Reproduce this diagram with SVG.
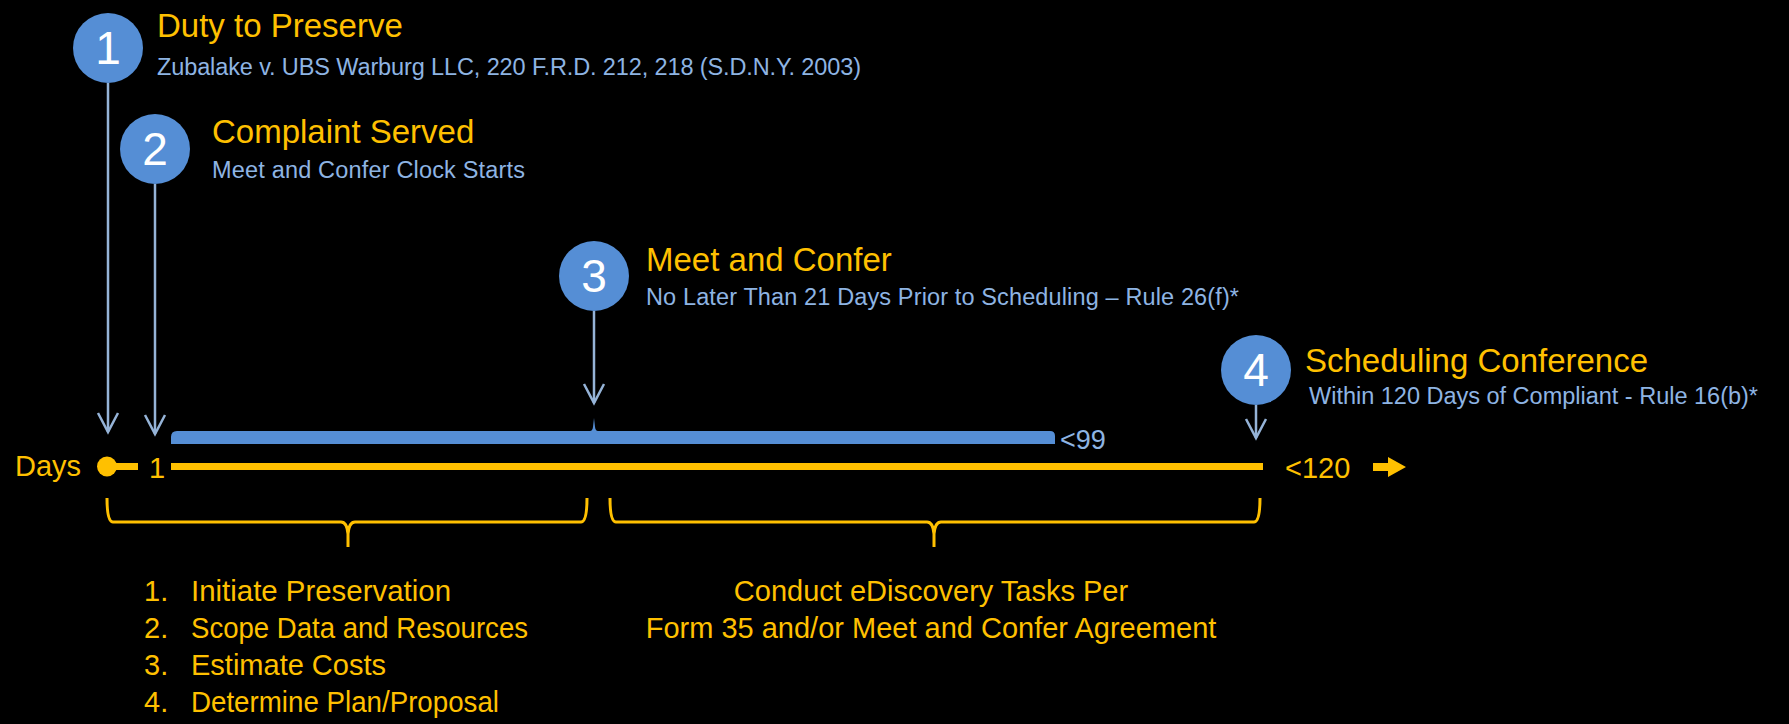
<svg xmlns="http://www.w3.org/2000/svg" width="1789" height="724" viewBox="0 0 1789 724">
<defs>
<style>
text{font-family:"Liberation Sans",Arial,sans-serif}
.title{fill:#FFC000;font-size:33px}
.sub{fill:#8EB4E3;font-size:23.5px}
.num{fill:#FFFFFF;font-size:46px;text-anchor:middle}
.circ{fill:#558ED5}
.vline{stroke:#95B3D7;stroke-width:2.5;fill:none}
.ytxt{fill:#FFC000;font-size:29px}
.brace{stroke:#FFC000;stroke-width:3;fill:none;stroke-linejoin:round}
</style>
<marker id="vhead" markerUnits="userSpaceOnUse" viewBox="-22 -13 24 26" markerWidth="24" markerHeight="26" refX="0" refY="0" orient="auto" overflow="visible">
<path d="M-19,-10 L0,0 L-19,10" fill="none" stroke="#95B3D7" stroke-width="2.5"/>
</marker>
</defs>
<rect x="0" y="0" width="1789" height="724" fill="#000000"/>

<g id="connectors">
<line class="vline" x1="108" y1="83" x2="108" y2="432" marker-end="url(#vhead)"/>
<line class="vline" x1="155" y1="184" x2="155" y2="434" marker-end="url(#vhead)"/>
<line class="vline" x1="594" y1="311" x2="594" y2="403" marker-end="url(#vhead)"/>
<line class="vline" x1="1256" y1="405" x2="1256" y2="438" marker-end="url(#vhead)"/>
</g>

<g id="node1">
<circle class="circ" cx="108" cy="48" r="35"/>
<text class="num" x="108" y="64">1</text>
<text class="title" x="157" y="37">Duty to Preserve</text>
<text class="sub" x="157" y="75" textLength="704" lengthAdjust="spacing">Zubalake v. UBS Warburg LLC, 220 F.R.D. 212, 218 (S.D.N.Y. 2003)</text>
</g>

<g id="node2">
<circle class="circ" cx="155" cy="149" r="35"/>
<text class="num" x="155" y="165">2</text>
<text class="title" x="212" y="143">Complaint Served</text>
<text class="sub" x="212" y="178" textLength="313" lengthAdjust="spacing">Meet and Confer Clock Starts</text>
</g>

<g id="node3">
<circle class="circ" cx="594" cy="276" r="35"/>
<text class="num" x="594" y="292">3</text>
<text class="title" x="646" y="271">Meet and Confer</text>
<text class="sub" x="646" y="305" textLength="593" lengthAdjust="spacing">No Later Than 21 Days Prior to Scheduling – Rule 26(f)*</text>
</g>

<g id="node4">
<circle class="circ" cx="1256" cy="370" r="35"/>
<text class="num" x="1256" y="386">4</text>
<text class="title" x="1305" y="372">Scheduling Conference</text>
<text class="sub" x="1309" y="404" textLength="449" lengthAdjust="spacing">Within 120 Days of Compliant - Rule 16(b)*</text>
</g>

<g id="meetconfer-bar">
<path d="M171,444 L171,437 Q171,431 177,431 L590,431 Q592.5,431 593,427 L594,418 L595,427 Q595.5,431 598,431 L1050,431 Q1055,431 1055,436 L1055,444 Z" fill="#558ED5"/>
<text x="1060" y="449" fill="#8EB4E3" font-size="27">&lt;99</text>
</g>

<g id="timeline">
<text class="ytxt" x="15" y="476" font-size="28">Days</text>
<circle cx="107" cy="466.5" r="10" fill="#FFC000"/>
<rect x="107" y="463" width="31" height="7" fill="#FFC000"/>
<text class="ytxt" x="157" y="478" text-anchor="middle" font-size="28">1</text>
<rect x="171" y="463" width="1092" height="7" fill="#FFC000"/>
<text class="ytxt" x="1285" y="478">&lt;120</text>
<path d="M1373,463 L1388,463 L1388,457 L1406,467 L1388,477 L1388,471 L1373,471 Z" fill="#FFC000"/>
</g>

<g id="brace-left">
<path class="brace" d="M107,498 Q107,522 113,522 L341,522 Q347,522 348,534 L348,547 M348,547 L348,534 Q349,522 355,522 L581,522 Q587,522 587,498"/>
<text class="ytxt" x="144" y="601">1.</text>
<text class="ytxt" x="191" y="601" textLength="260" lengthAdjust="spacingAndGlyphs">Initiate Preservation</text>
<text class="ytxt" x="144" y="638">2.</text>
<text class="ytxt" x="191" y="638" textLength="337" lengthAdjust="spacingAndGlyphs">Scope Data and Resources</text>
<text class="ytxt" x="144" y="675">3.</text>
<text class="ytxt" x="191" y="675">Estimate Costs</text>
<text class="ytxt" x="144" y="712">4.</text>
<text class="ytxt" x="191" y="712" textLength="308" lengthAdjust="spacingAndGlyphs">Determine Plan/Proposal</text>
</g>

<g id="brace-right">
<path class="brace" d="M610,498 Q610,522 616,522 L927,522 Q933,522 934,534 L934,547 M934,547 L934,534 Q935,522 941,522 L1254,522 Q1260,522 1260,498"/>
<text class="ytxt" x="931" y="601" text-anchor="middle">Conduct eDiscovery Tasks Per</text>
<text class="ytxt" x="931" y="638" text-anchor="middle">Form 35 and/or Meet and Confer Agreement</text>
</g>
</svg>
